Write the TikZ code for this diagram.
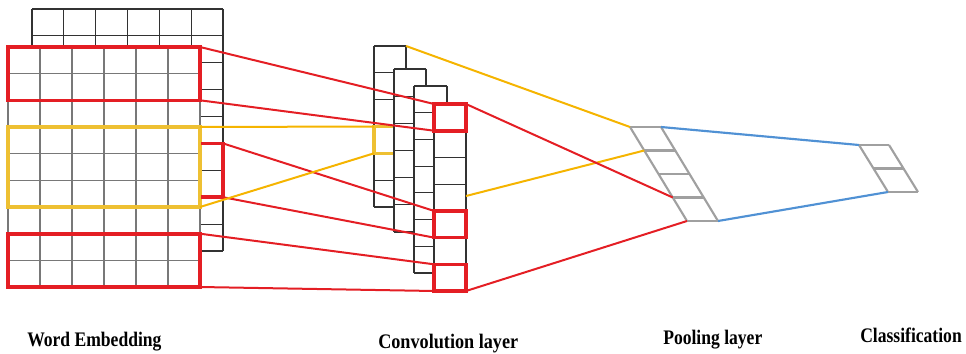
\documentclass[tikz,border=0pt]{standalone}
\usepackage{fontspec}
\setmainfont{Liberation Serif}
\definecolor{myred}{RGB}{228,30,36}
\definecolor{myyel}{RGB}{238,192,50}
\definecolor{myamber}{RGB}{245,180,0}
\definecolor{myblue}{RGB}{80,145,212}
\definecolor{mygray}{RGB}{160,160,160}
\definecolor{backc}{RGB}{50,50,50}
\definecolor{frontc}{RGB}{120,120,120}
\tikzset{
  backgrid/.style={draw=backc,line width=0.9pt},
  frontgrid/.style={draw=frontc,line width=0.8pt},
  convgrid/.style={draw=backc,line width=0.9pt},
  redbox/.style={draw=myred,line width=2.7pt},
  yelbox/.style={draw=myyel,line width=2.7pt},
  redcon/.style={draw=myred,line width=1.5pt},
  yelcon/.style={draw=myamber,line width=1.5pt},
  bluecon/.style={draw=myblue,line width=1.6pt},
  poolcell/.style={draw=mygray,line width=1.6pt},
  lab/.style={anchor=base west,inner sep=0pt,font=\fontsize{15.5}{18}\selectfont\bfseries}
}
\begin{document}
\begin{tikzpicture}[x=0.75pt,y=-0.75pt]
\useasboundingbox (0,0) rectangle (966,353);

% ---------- word embedding: back grid ----------
\foreach \i in {0,...,6} \draw[backgrid] ({32+\i*191/6},9) -- ++(0,242);
\foreach \j in {0,...,9} \draw[backgrid] (32,{9+\j*242/9}) -- ++(191,0);
% front grid
\fill[white] (8,47) rectangle (200,287);
\foreach \i in {0,...,6} \draw[frontgrid] ({8+\i*32},47) -- ++(0,240);
\foreach \j in {0,...,9} \draw[frontgrid] (8,{47+\j*240/9}) -- ++(192,0);
% highlight boxes
\draw[redbox] (8,47) rectangle (200,100.3);
\draw[yelbox] (8,127) rectangle (200,207);
\draw[redbox] (8,233.7) rectangle (200,287);
\draw[redbox] (201,143.4) -- (223,143.4) -- (223,197.2) -- (201,197.2);

% ---------- convolution layer ----------
% column 1
\fill[white] (374,46) rectangle (406,207);
\foreach \j in {0,...,6} \draw[convgrid] (374,{46+\j*161/6}) -- ++(32,0);
\draw[convgrid] (374,46) -- (374,207) (406,46) -- (406,207);
\draw[yelbox] (394,126.5) -- (374,126.5) -- (374,153.3) -- (394,153.3);
% column 2
\fill[white] (394,69) rectangle (426,232);
\foreach \j in {0,...,6} \draw[convgrid] (394,{69+\j*163/6}) -- ++(32,0);
\draw[convgrid] (394,69) -- (394,232) (426,69) -- (426,232);
% column 3
\fill[white] (414,86) rectangle (447,273);
\foreach \j in {0,...,7} \draw[convgrid] (414,{86+\j*187/7}) -- ++(33,0);
\draw[convgrid] (414,86) -- (414,273) (447,86) -- (447,273);
% column 4
\fill[white] (434,104) rectangle (466,291);
\foreach \j in {0,...,7} \draw[convgrid] (434,{104+\j*187/7}) -- ++(32,0);
\draw[convgrid] (434,104) -- (434,291) (466,104) -- (466,291);
\draw[redbox] (434,104) rectangle (466,130.7);
\draw[redbox] (434,210.9) rectangle (466,237.6);
\draw[redbox] (434,264.3) rectangle (466,291);

% ---------- pooling layer ----------
\foreach \j in {0,...,4} \coordinate (p\j) at ({630+\j*57/4},{127+\j*94/4});
\foreach \j in {0,...,4} \coordinate (q\j) at ({661+\j*57/4},{127+\j*94/4});
\foreach \j in {0,...,4} \draw[poolcell] (p\j) -- (q\j);
\draw[poolcell] (p0) -- (p4) (q0) -- (q4);

% ---------- classification ----------
\foreach \j in {0,...,2} \coordinate (k\j) at ({859+\j*14.5},{145+\j*23.5});
\foreach \j in {0,...,2} \coordinate (m\j) at ({889+\j*14.5},{145+\j*23.5});
\foreach \j in {0,...,2} \draw[poolcell] (k\j) -- (m\j);
\draw[poolcell] (k0) -- (k2) (m0) -- (m2);

% ---------- connector end points ----------
\coordinate (e1a) at (200,47);
\coordinate (e1b) at (200,100.3);
\coordinate (s1) at (223,143.4);
\coordinate (s2) at (223,197.2);
\coordinate (e3a) at (200,233.7);
\coordinate (e3b) at (200,287);
\coordinate (y1) at (200,127);
\coordinate (y2) at (200,207);
\coordinate (cy1) at (374,126.5);
\coordinate (cy2) at (374,153.3);
\coordinate (c1a) at (434,104);
\coordinate (c1b) at (434,130.7);
\coordinate (c2a) at (434,210.9);
\coordinate (c2b) at (434,237.6);
\coordinate (c3a) at (434,264.3);
\coordinate (c3b) at (434,291);
\coordinate (col1tr) at (406,46);
\coordinate (col4m) at (466,196);
\coordinate (col4t) at (466,104);
\coordinate (col4b) at (466,291);

% ---------- connectors ----------
\draw[redcon] (e1a) -- (c1a);
\draw[redcon] (e1b) -- (c1b);
\draw[redcon] (s1) -- (c2a);
\draw[redcon] (s2) -- (c2b);
\draw[redcon] (e3a) -- (c3a);
\draw[redcon] (e3b) -- (c3b);
\draw[yelcon] (y1) -- (cy1);
\draw[yelcon] (y2) -- (cy2);
\draw[yelcon] (col1tr) -- (p0);
\draw[yelcon] (col4m) -- (p1);
\draw[redcon] (col4t) -- (p3);
\draw[redcon] (col4b) -- (p4);
\draw[bluecon] (q0) -- (k0);
\draw[bluecon] (q4) -- (k2);

% ---------- labels ----------
\node[lab] (l1) at (27,346) {\scalebox{0.85}[1]{Word Embedding}};
\node[lab] (l2) at (378,348) {\scalebox{0.88}[1]{Convolution layer}};
\node[lab] (l3) at (663,344) {\scalebox{0.85}[1]{Pooling layer}};
\node[lab] (l4) at (860,342) {\scalebox{0.85}[1]{Classification}};
\end{tikzpicture}
\end{document}
